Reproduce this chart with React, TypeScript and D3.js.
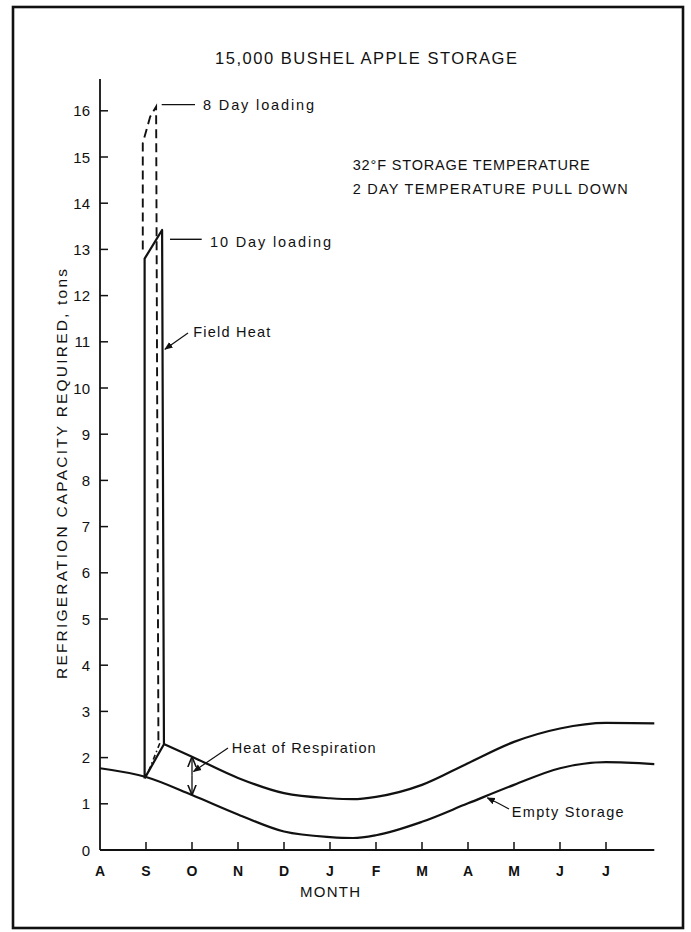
import * as d3 from "d3";

// month index: 0 = Aug ... 11 = Jul
const monthLabels = ["A", "S", "O", "N", "D", "J", "F", "M", "A", "M", "J", "J"];
const loadTicks = [0, 1, 2, 3, 4, 5, 6, 7, 8, 9, 10, 11, 12, 13, 14, 15, 16];

// empty storage load (tons)
const emptyMonth = [0, 1, 2, 3, 4, 5, 5.5, 6, 7, 8, 9, 10, 11, 12.05];
const emptyLoad = [1.77, 1.58, 1.19, 0.77, 0.4, 0.28, 0.26, 0.32, 0.61, 1.01, 1.41, 1.77, 1.9, 1.86];

// empty storage + heat of respiration
const respMonth = [1.4, 2, 3, 4, 5, 5.5, 6, 7, 8, 9, 10, 11, 12.05];
const respLoad = [2.29, 2.02, 1.56, 1.23, 1.12, 1.1, 1.15, 1.41, 1.88, 2.34, 2.63, 2.75, 2.74];

// 10 day loading (field heat)
const tenDayMonth = [0.97, 0.97, 1.35, 1.39, 0.97];
const tenDayLoad = [1.55, 12.8, 13.42, 2.29, 1.55];

// 8 day loading
const eightDayMonth = [0.93, 0.93, 1.09, 1.22, 1.27];
const eightDayLoad = [13.0, 15.3, 15.87, 16.09, 2.3];
const eightBaseMonth = [1.3, 1.05];
const eightBaseLoad = [2.31, 1.69];

const W = 691;
const H = 932;
const FONT = "'Liberation Sans', Arial, sans-serif";
const INK = "#111";

export default function App() {
  const x = d3.scaleLinear().domain([0, 12]).range([100, 652]);
  const y = d3.scaleLinear().domain([0, 16]).range([850, 110.8]);

  const curve = (mx: number[], ly: number[]) =>
    d3
      .line<number>()
      .x((d) => x(d))
      .y((_, i) => y(ly[i]))
      .curve(d3.curveMonotoneX)(mx) as string;

  const poly = (mx: number[], ly: number[]) =>
    d3
      .line<number>()
      .x((d) => x(d))
      .y((_, i) => y(ly[i]))(mx) as string;

  const xEnd = x(12.05);
  const respAtO = respLoad[respMonth.indexOf(2)];
  const emptyAtO = emptyLoad[emptyMonth.indexOf(2)];
  const midO = (respAtO + emptyAtO) / 2;

  return (
    <svg
      width={W}
      height={H}
      style={{ position: "absolute", left: 0, top: 0, background: "#fff" }}
      fontFamily={FONT}
    >
      <defs>
        <marker id="arr" viewBox="0 0 10 10" refX="9" refY="5" markerWidth="7" markerHeight="7" orient="auto">
          <path d="M0,1 L10,5 L0,9 z" fill={INK} />
        </marker>
        <marker id="open" viewBox="0 0 10 10" refX="9" refY="5" markerWidth="8" markerHeight="8" orient="auto">
          <path d="M0,1 L10,5 L0,9" fill="none" stroke={INK} strokeWidth={1.5} />
        </marker>
      </defs>

      {/* frame */}
      <rect x={13} y={7} width={670} height={921} fill="none" stroke={INK} strokeWidth={2.6} />

      {/* title */}
      <text x={366} y={64} textAnchor="middle" fontSize={16.5} textLength={302} lengthAdjust="spacing" fill={INK}>
        15,000 BUSHEL APPLE STORAGE
      </text>

      {/* axes */}
      <line x1={x(0)} x2={x(0)} y1={y(0)} y2={79} stroke={INK} strokeWidth={1.8} />
      <line x1={x(0)} x2={xEnd} y1={y(0)} y2={y(0)} stroke={INK} strokeWidth={1.8} />

      {loadTicks.map((t) => (
        <g key={"y" + t}>
          {t > 0 && <line x1={x(0)} x2={x(0) + 8} y1={y(t)} y2={y(t)} stroke={INK} strokeWidth={1.5} />}
          <text x={90} y={y(t) + 5.5} textAnchor="end" fontSize={15} fill={INK}>
            {t}
          </text>
        </g>
      ))}

      {monthLabels.map((m, i) => (
        <g key={"x" + i}>
          {i > 0 && <line x1={x(i)} x2={x(i)} y1={y(0)} y2={y(0) - 8} stroke={INK} strokeWidth={1.5} />}
          <text x={x(i)} y={876} textAnchor="middle" fontSize={14} fontWeight="bold" fill={INK}>
            {m}
          </text>
        </g>
      ))}

      <text x={330} y={897} textAnchor="middle" fontSize={15} textLength={60} lengthAdjust="spacing" fill={INK}>
        MONTH
      </text>

      <text
        transform="translate(67,474) rotate(-90)"
        textAnchor="middle"
        fontSize={15.5}
        textLength={410}
        lengthAdjust="spacing"
        fill={INK}
      >
        REFRIGERATION CAPACITY REQUIRED, tons
      </text>

      {/* curves */}
      <path d={curve(emptyMonth, emptyLoad)} fill="none" stroke={INK} strokeWidth={2.2} />
      <path d={curve(respMonth, respLoad)} fill="none" stroke={INK} strokeWidth={2.2} />

      {/* loading spikes */}
      <path d={poly(tenDayMonth, tenDayLoad)} fill="none" stroke={INK} strokeWidth={2.2} strokeLinejoin="round" />
      <path d={poly(eightDayMonth, eightDayLoad)} fill="none" stroke={INK} strokeWidth={1.9} strokeDasharray="9,5" />
      <path d={poly(eightBaseMonth, eightBaseLoad)} fill="none" stroke={INK} strokeWidth={1.6} strokeDasharray="5,3,1.5,3" />

      {/* heat of respiration double arrow */}
      <line x1={x(2)} x2={x(2)} y1={y(midO)} y2={y(respAtO) + 1} stroke={INK} strokeWidth={1.3} markerEnd="url(#open)" />
      <line x1={x(2)} x2={x(2)} y1={y(midO)} y2={y(emptyAtO) - 1} stroke={INK} strokeWidth={1.3} markerEnd="url(#open)" />

      {/* annotations */}
      <line x1={161.7} x2={195} y1={y(16.09) - 2} y2={y(16.09) - 2} stroke={INK} strokeWidth={1.4} />
      <text x={203} y={110} fontSize={14.5} textLength={111} lengthAdjust="spacing" fill={INK}>
        8 Day loading
      </text>

      <line x1={170} x2={201.7} y1={239.3} y2={239.3} stroke={INK} strokeWidth={1.4} />
      <text x={210} y={246.5} fontSize={14.5} textLength={121} lengthAdjust="spacing" fill={INK}>
        10 Day loading
      </text>

      <line x1={188} y1={333} x2={x(1.39) + 1} y2={y(10.84)} stroke={INK} strokeWidth={1.2} markerEnd="url(#arr)" />
      <text x={193.3} y={337} fontSize={14.5} textLength={77} lengthAdjust="spacing" fill={INK}>
        Field Heat
      </text>

      <line x1={228} y1={748} x2={x(2) + 1.5} y2={y(1.7)} stroke={INK} strokeWidth={1.2} markerEnd="url(#arr)" />
      <text x={231.7} y={752.5} fontSize={14.5} textLength={144} lengthAdjust="spacing" fill={INK}>
        Heat of Respiration
      </text>

      <path d={`M509,809 Q498,803 ${x(8.42)},${y(1.13)}`} fill="none" stroke={INK} strokeWidth={1.2} markerEnd="url(#arr)" />
      <text x={511.7} y={817} fontSize={14.5} textLength={112} lengthAdjust="spacing" fill={INK}>
        Empty Storage
      </text>

      <text x={352.7} y={170} fontSize={14.5} textLength={237} lengthAdjust="spacing" fill={INK}>
        32°F STORAGE TEMPERATURE
      </text>
      <text x={352.7} y={194} fontSize={14.5} textLength={275} lengthAdjust="spacing" fill={INK}>
        2 DAY TEMPERATURE PULL DOWN
      </text>
    </svg>
  );
}
